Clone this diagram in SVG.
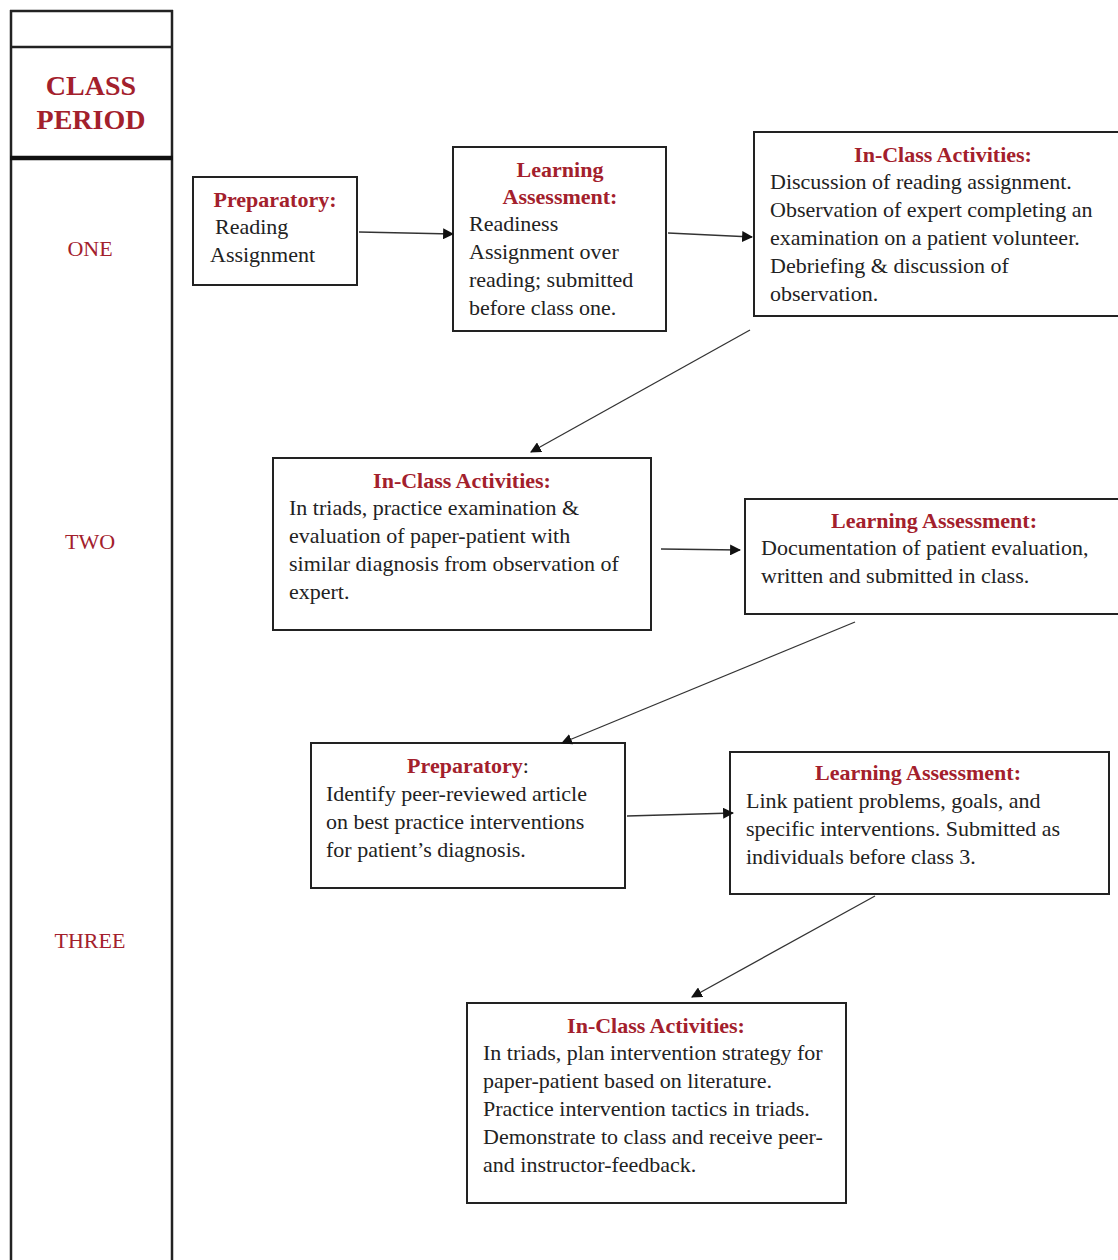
<svg xmlns="http://www.w3.org/2000/svg" width="1118" height="1260" viewBox="0 0 1118 1260">
<style>
.bx{fill:#fff;stroke:#222;stroke-width:2}
.t{font-family:"Liberation Serif","Times New Roman",serif;font-size:22px;fill:#222}
.h{font-family:"Liberation Serif","Times New Roman",serif;font-size:22px;font-weight:bold;fill:#a3202c;text-anchor:middle}
.p{font-family:"Liberation Serif","Times New Roman",serif;font-size:22px;fill:#a3202c;text-anchor:middle}
.cp{font-family:"Liberation Serif","Times New Roman",serif;font-size:28px;font-weight:bold;fill:#a3202c;text-anchor:middle}
.ln{stroke:#333;stroke-width:1.3;fill:none;marker-end:url(#ah)}
</style>
<defs>
<marker id="ah" viewBox="0 0 10 10" refX="9" refY="5" markerWidth="11" markerHeight="11" markerUnits="userSpaceOnUse" orient="auto">
<path d="M0,0 L10,5 L0,10 z" fill="#111"/>
</marker>
</defs>
<rect width="1118" height="1260" fill="#fff"/>
<g id="period-column">
<line x1="11" y1="10" x2="11" y2="1260" stroke="#222" stroke-width="2.5"/>
<line x1="172" y1="10" x2="172" y2="1260" stroke="#222" stroke-width="2.5"/>
<line x1="10" y1="11" x2="173" y2="11" stroke="#222" stroke-width="2.5"/>
<line x1="10" y1="47" x2="173" y2="47" stroke="#222" stroke-width="2.5"/>
<line x1="10" y1="158" x2="173" y2="158" stroke="#111" stroke-width="4.5"/>
<text class="cp" x="91" y="95">CLASS</text>
<text class="cp" x="91" y="129">PERIOD</text>
<text class="p" x="90" y="256">ONE</text>
<text class="p" x="90" y="549">TWO</text>
<text class="p" x="90" y="948">THREE</text>
</g>
<g id="node-prep1">
<rect class="bx" x="193" y="177" width="164" height="108"/>
<text class="h" x="275" y="207">Preparatory:</text>
<text class="t" x="215" y="234">Reading</text>
<text class="t" x="210" y="262">Assignment</text>
</g>
<g id="node-la1">
<rect class="bx" x="453" y="147" width="213" height="184"/>
<text class="h" x="560" y="177">Learning</text>
<text class="h" x="560" y="204">Assessment:</text>
<text class="t" x="469" y="231">Readiness</text>
<text class="t" x="469" y="259">Assignment over</text>
<text class="t" x="469" y="287">reading; submitted</text>
<text class="t" x="469" y="315">before class one.</text>
</g>
<g id="node-ica1">
<rect class="bx" x="754" y="132" width="370" height="184"/>
<text class="h" x="943" y="162">In-Class Activities:</text>
<text class="t" x="770" y="189">Discussion of reading assignment.</text>
<text class="t" x="770" y="217">Observation of expert completing an</text>
<text class="t" x="770" y="245">examination on a patient volunteer.</text>
<text class="t" x="770" y="273">Debriefing &amp; discussion of</text>
<text class="t" x="770" y="301">observation.</text>
</g>
<g id="node-ica2">
<rect class="bx" x="273" y="458" width="378" height="172"/>
<text class="h" x="462" y="488">In-Class Activities:</text>
<text class="t" x="289" y="515">In triads, practice examination &amp;</text>
<text class="t" x="289" y="543">evaluation of paper-patient with</text>
<text class="t" x="289" y="571">similar diagnosis from observation of</text>
<text class="t" x="289" y="599">expert.</text>
</g>
<g id="node-la2">
<rect class="bx" x="745" y="499" width="380" height="115"/>
<text class="h" x="934" y="528">Learning Assessment:</text>
<text class="t" x="761" y="555">Documentation of patient evaluation,</text>
<text class="t" x="761" y="583">written and submitted in class.</text>
</g>
<g id="node-prep2">
<rect class="bx" x="311" y="743" width="314" height="145"/>
<text class="h" x="468" y="773">Preparatory<tspan fill="#222" font-weight="normal">:</tspan></text>
<text class="t" x="326" y="801">Identify peer-reviewed article</text>
<text class="t" x="326" y="829">on best practice interventions</text>
<text class="t" x="326" y="857">for patient’s diagnosis.</text>
</g>
<g id="node-la3">
<rect class="bx" x="730" y="752" width="379" height="142"/>
<text class="h" x="918" y="780">Learning Assessment:</text>
<text class="t" x="746" y="808">Link patient problems, goals, and</text>
<text class="t" x="746" y="836">specific interventions. Submitted as</text>
<text class="t" x="746" y="864">individuals before class 3.</text>
</g>
<g id="node-ica3">
<rect class="bx" x="467" y="1003" width="379" height="200"/>
<text class="h" x="656" y="1033">In-Class Activities:</text>
<text class="t" x="483" y="1060">In triads, plan intervention strategy for</text>
<text class="t" x="483" y="1088">paper-patient based on literature.</text>
<text class="t" x="483" y="1116">Practice intervention tactics in triads.</text>
<text class="t" x="483" y="1144">Demonstrate to class and receive peer-</text>
<text class="t" x="483" y="1172">and instructor-feedback.</text>
</g>
<g id="connectors">
<line class="ln" x1="359" y1="232" x2="453" y2="234"/>
<line class="ln" x1="668" y1="233" x2="752" y2="237"/>
<line class="ln" x1="750" y1="330" x2="531" y2="452"/>
<line class="ln" x1="661" y1="549" x2="740" y2="550"/>
<line class="ln" x1="855" y1="622" x2="562" y2="743"/>
<line class="ln" x1="627" y1="816" x2="733" y2="813"/>
<line class="ln" x1="875" y1="896" x2="692" y2="997"/>
</g>
</svg>
